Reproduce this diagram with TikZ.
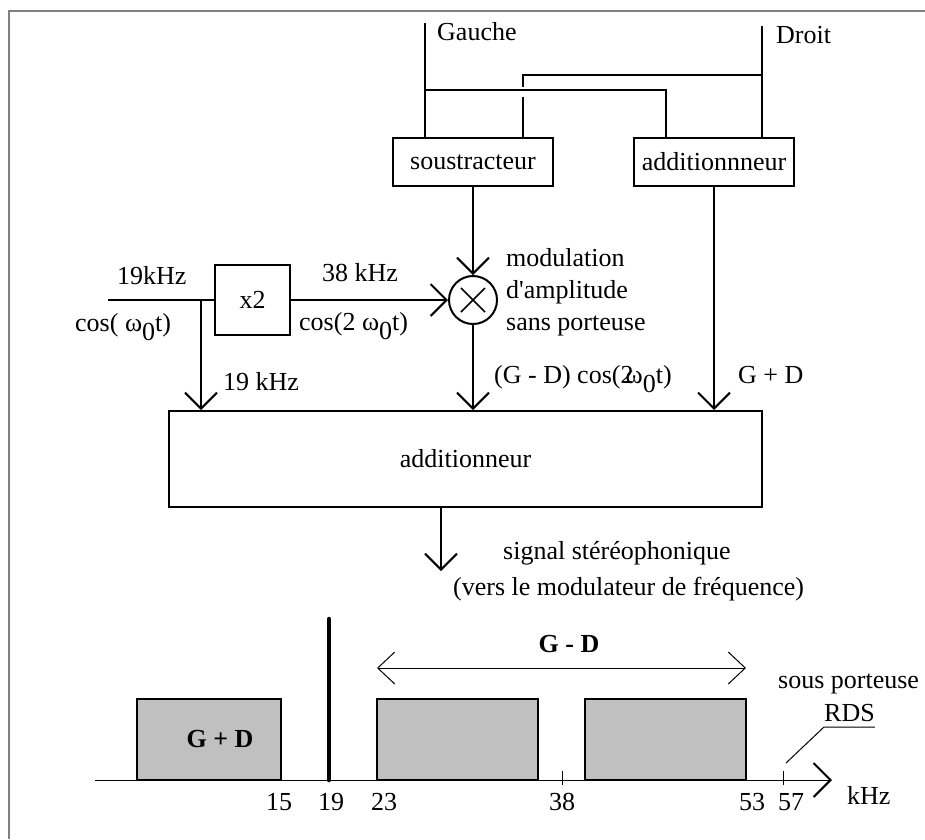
\documentclass[tikz,border=0pt]{standalone}
\usepackage{fontspec}
\setmainfont{Liberation Serif}
\usetikzlibrary{arrows.meta,positioning}

\definecolor{bandgray}{RGB}{192,192,192}
\definecolor{framegray}{RGB}{128,128,128}
\newcommand{\omz}{ω\raisebox{-0.35em}{0}}

\tikzset{
  bloc/.style={draw,line width=2pt,minimum height=48pt,inner sep=0pt},
  fil/.style={line width=2pt},
  sig/.style={line width=2pt,-{Straight Barb[length=16pt,width=32pt]}},
  lbl/.style={anchor=base west,inner sep=0pt},
  band/.style={draw,line width=2pt,fill=bandgray,inner sep=0pt},
}

\begin{document}
\begin{tikzpicture}[x=1pt,y=-1pt,font=\fontsize{26}{32}\selectfont]
\useasboundingbox (0,0) rectangle (925,839);
\draw[framegray,line width=1.5pt] (9,839) -- (9,11) -- (925,11);

% Matrixing stage
\node[bloc,minimum width=160pt] (sous) at (473,162) {soustracteur};
\node[bloc,minimum width=160pt] (addG) at (714,162) {additionnneur};

\coordinate (gIn) at (425,23);
\coordinate (dIn) at (762,26);
\coordinate (gJ) at (425,90);
\coordinate (gC) at (666,90);
\coordinate (dJ) at (762,75);
\coordinate (dC) at (523,75);
\draw[fil] (gIn) -- (gIn |- sous.north);
\draw[fil] (dIn) -- (dIn |- addG.north);
\draw[fil] (gJ) -- (gC) -- (gC |- addG.north);
\draw[fil] (dJ) -- (dC) -- (523,87);
\draw[fil] (523,97) -- (dC |- sous.north);
\node[lbl] (lG) at (437,40) {Gauche};
\node[lbl] (lD) at (776,43) {Droit};

% Pilot, doubler and modulator
\node[bloc,minimum width=75pt,minimum height=70pt] (x2) at (252.5,300) {x2};
\node[draw,circle,line width=2pt,minimum size=48pt,inner sep=0pt] (mult) at (473,300) {};
\draw[line width=1.5pt] (mult.center) ++(-12,-12) -- ++(24,24);
\draw[line width=1.5pt] (mult.center) ++(-12,12) -- ++(24,-24);

\coordinate (in19) at (108,300);
\coordinate (j19) at (201,300);
\draw[fil] (in19) -- (x2.west);
\draw[sig] (x2.east) -- (mult.west);
\draw[sig] (sous.south) -- (mult.north);

\node[lbl] (l19in) at (117,284) {19kHz};
\node[lbl] (lcos) at (75,331) {cos( \omz t)};
\node[lbl] (l38) at (322,281) {38 kHz};
\node[lbl] (lcos2) at (299,330) {cos(2 \omz t)};
\node[lbl] (lmod1) at (506,266) {modulation};
\node[lbl] (lmod2) at (506,298) {d\textquotesingle amplitude};
\node[lbl] (lmod3) at (506,330) {sans porteuse};

% Final sum
\node[bloc,minimum width=593pt,minimum height=96pt] (sum) at (465.5,459) {additionneur};
\draw[sig] (j19) -- (j19 |- sum.north);
\draw[sig] (mult.south) -- (mult.south |- sum.north);
\draw[sig] (addG.south) -- (addG.south |- sum.north);
\node[lbl] (l19) at (223,390) {19 kHz};
\node[lbl] (lGmD) at (494,383) {(G - D) cos(2\kern-0.3em\omz t)};
\node[lbl] (lGpD) at (738,383) {G + D};

\coordinate (out) at (441,571);
\draw[sig] (out |- sum.south) -- (out);
\node[lbl] (lsig) at (503,559) {signal stéréophonique};
\node[lbl] (lvers) at (453,595) {(vers le modulateur de fréquence)};

% Spectrum
\node[band,minimum width=144pt,minimum height=81pt] (bandSum) at (209,739.5) {};
\node[band,minimum width=161pt,minimum height=81pt] (bandLow) at (457.5,739.5) {};
\node[band,minimum width=161pt,minimum height=81pt] (bandUp) at (665.5,739.5) {};
\node (tSum) at (220,739) {\bfseries G + D};

\coordinate (f0) at (95,780);
\coordinate (fEnd) at (832,780);
\draw[line width=1pt,-{Straight Barb[length=17pt,width=34pt,line width=2pt]}] (f0) -- (fEnd);
\draw[line width=4.5pt,line cap=round] (329,619) -- (329,780);
\draw[line width=1pt] (562,771) -- (562,785);
\draw[line width=1pt] (783,771) -- (783,785);

\coordinate (gdL) at (377,668);
\coordinate (gdR) at (746,668);
\draw[line width=1pt,{Straight Barb[length=17pt,width=32pt]}-{Straight Barb[length=17pt,width=32pt]}] (gdL) -- (gdR);
\node[anchor=base,inner sep=0pt] (tDiff) at (569,652) {\bfseries G - D};

\foreach \x/\v in {279/15,331/19,384/23,562/38,752/53,791/57}
  \node[anchor=base,inner sep=0pt] (f\v) at (\x,810) {\v};
\node[lbl] (lkHz) at (847,804) {kHz};

\node[lbl] (lsp) at (778,688) {sous porteuse};
\node[lbl] (rds) at (824,721) {RDS};
\draw[line width=1pt] (rds.south east |- 0,727) -- (rds.south west |- 0,727) -- (786,763);
\end{tikzpicture}
\end{document}
